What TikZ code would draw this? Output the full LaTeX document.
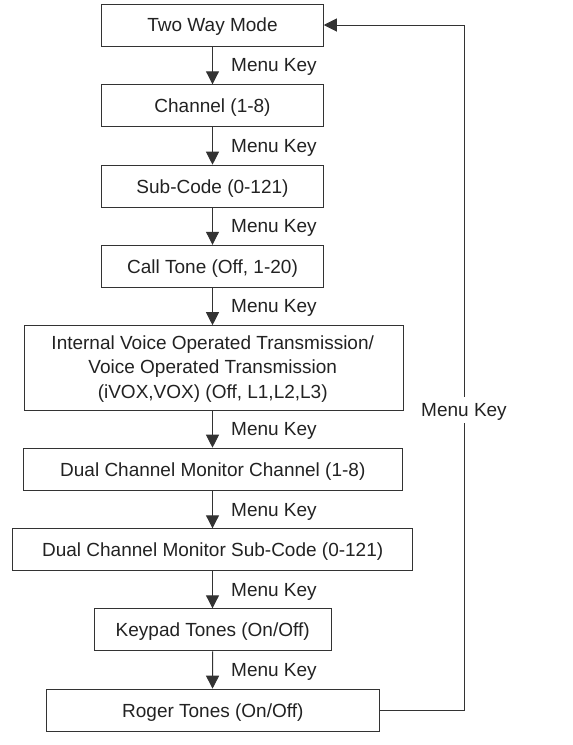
\documentclass[tikz,border=0pt]{standalone}
\usepackage{fontspec}
\setmainfont{Liberation Sans}
\usetikzlibrary{arrows.meta}
\definecolor{ink}{HTML}{222222}
\definecolor{edge}{HTML}{333333}
\begin{document}
\begin{tikzpicture}[x=1pt,y=-1pt,
  box/.style={draw=edge,line width=1pt,inner sep=0pt,minimum height=42pt,text=ink,font=\fontsize{19}{24.5}\selectfont,align=center,text height=13.6pt,text depth=0pt},
  bigbox/.style={draw=edge,line width=1pt,inner sep=0pt,text=ink,font=\fontsize{19}{24.5}\selectfont,align=center},
  lbl/.style={text=ink,font=\fontsize{19}{22}\selectfont,anchor=west,inner sep=0pt,text height=13.6pt,text depth=0pt},
  arr/.style={draw=edge,line width=1pt,-{Triangle[width=13pt,length=13pt]}}]
\useasboundingbox (0,0) rectangle (573,745);
\node[box,minimum width=221.5pt] (b1) at (212.5,25) {Two Way Mode};
\node[box,minimum width=221.5pt] (b2) at (212.5,105.8) {Channel (1-8)};
\node[box,minimum width=221.5pt] (b3) at (212.5,186.2) {Sub-Code (0-121)};
\node[box,minimum width=221.5pt] (b4) at (212.5,266.3) {Call Tone (Off, 1-20)};
\node[bigbox,minimum width=378.6pt,minimum height=84.6pt] (b5) at (214,368) {};
\node[text=ink,font=\fontsize{19}{24.5}\selectfont,align=center,inner sep=0pt] (t5) at (212.7,368.8) {Internal Voice Operated Transmission/\\Voice Operated Transmission\\(iVOX,VOX) (Off, L1,L2,L3)};
\node[box,minimum width=379pt] (b6) at (212.8,469.2) {Dual Channel Monitor Channel (1-8)};
\node[box,minimum width=400pt] (b7) at (212.7,549.8) {Dual Channel Monitor Sub-Code (0-121)};
\node[box,minimum width=236.7pt] (b8) at (212.7,629.8) {Keypad Tones (On/Off)};
\node[box,minimum width=333pt] (b9) at (212.8,710.2) {Roger Tones (On/Off)};
\draw[arr] (b1.south) -- (b2.north);
\draw[arr] (b2.south) -- (b3.north);
\draw[arr] (b3.south) -- (b4.north);
\draw[arr] (b4.south) -- (b4.south |- b5.north);
\draw[arr] (b4.south |- b5.south) -- (b4.south |- b6.north);
\draw[arr] (b4.south |- b6.south) -- (b4.south |- b7.north);
\draw[arr] (b4.south |- b7.south) -- (b4.south |- b8.north);
\draw[arr] (b8.south) -- (b4.south |- b9.north);
\node[lbl] (m1) at (231,65) {Menu Key};
\node[lbl] (m2) at (231,145.5) {Menu Key};
\node[lbl] (m3) at (231,226) {Menu Key};
\node[lbl] (m4) at (231,306) {Menu Key};
\node[lbl] (m5) at (231,429) {Menu Key};
\node[lbl] (m6) at (231,509.5) {Menu Key};
\node[lbl] (m7) at (231,589.5) {Menu Key};
\node[lbl] (m8) at (231,669.5) {Menu Key};
\coordinate (rc) at (464,410);
\draw[arr] (b9.east) -- (b9.east -| rc) |- (b1.east);
\node[text=ink,font=\fontsize{19}{22}\selectfont,fill=white,inner xsep=1pt,inner ysep=6pt,text height=13.6pt,text depth=0pt] (mr) at (rc) {Menu Key};
\end{tikzpicture}
\end{document}
